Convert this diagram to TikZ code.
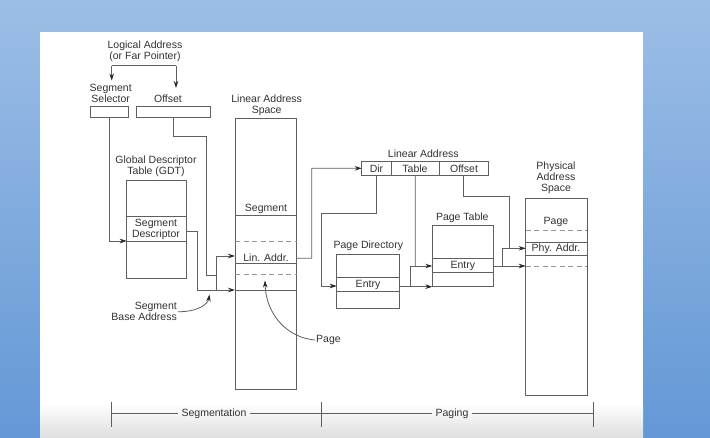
\documentclass[tikz,border=0pt]{standalone}
\usepackage{fontspec}
\setmainfont{Liberation Sans}
\usetikzlibrary{arrows.meta}
\definecolor{lc}{RGB}{95,95,95}
\definecolor{dc}{RGB}{150,150,150}
\definecolor{tc}{RGB}{50,50,50}
\definecolor{bgT}{RGB}{156,190,230}
\definecolor{bgB}{RGB}{100,152,214}
\definecolor{botg}{RGB}{222,222,222}
\tikzset{
  ln/.style={draw=lc, line width=0.8pt},
  box/.style={draw=lc, line width=0.8pt, inner sep=0pt, outer sep=0pt, anchor=north west},
  lbl/.style={font=\fontsize{10.5}{11}\selectfont, text=tc, inner sep=1pt, align=center},
  arr/.style={ln, -{Stealth[length=7pt,width=4.5pt,color=black!85]}},
  dsh/.style={draw=dc, line width=0.8pt, dash pattern=on 5pt off 3.5pt},
}
\begin{document}
\begin{tikzpicture}[x=1pt,y=-1pt]
\useasboundingbox (0,0) rectangle (710,437);
% background
\shade[top color=bgT, bottom color=bgB] (0,0) rectangle (710,437);
\fill[white] (40,32) rectangle (643,437);
\shade[top color=white, bottom color=botg] (40,404) rectangle (643,437);

% boxes
\node[box, minimum width=38pt, minimum height=11pt] (selbox) at (90,106) {};
\node[box, minimum width=74pt, minimum height=11pt] (offbox) at (136,106) {};
\node[box, minimum width=59.3pt, minimum height=98pt] (gdt) at (126.7,180) {};
\node[box, minimum width=61.7pt, minimum height=271pt] (lin) at (235,118.3) {};
\node[box, minimum width=29.3pt, minimum height=13.3pt] (dirf) at (361.7,161.7) {};
\node[box, minimum width=48.3pt, minimum height=13.3pt] (tabf) at (391,161.7) {};
\node[box, minimum width=49pt, minimum height=13.3pt] (offf) at (439.3,161.7) {};
\node[box, minimum width=62.6pt, minimum height=53.7pt] (pd) at (336.7,254.3) {};
\node[box, minimum width=61pt, minimum height=61.7pt] (pt) at (432.3,225) {};
\node[box, minimum width=61.6pt, minimum height=196.7pt] (phys) at (525.7,198.3) {};

% internal divisions
\draw[ln] (126.7,216.7) -- (186,216.7);
\draw[ln] (126.7,241.7) -- (186,241.7);
\draw[ln] (235,215.7) -- (296.7,215.7);
\draw[dsh] (235,241.7) -- (296.7,241.7);
\draw[ln] (235,263.3) -- (296.7,263.3);
\draw[dsh] (235,274) -- (296.7,274);
\draw[ln] (235,290) -- (296.7,290);
\draw[ln] (336.7,277.7) -- (399.3,277.7);
\draw[ln] (336.7,291.7) -- (399.3,291.7);
\draw[ln] (432.3,258.3) -- (493.3,258.3);
\draw[ln] (432.3,272.7) -- (493.3,272.7);
\draw[dsh] (525.7,230.7) -- (587.3,230.7);
\draw[ln] (525.7,242.3) -- (587.3,242.3);
\draw[ln] (525.7,255.7) -- (587.3,255.7);
\draw[dsh] (525.7,266) -- (587.3,266);

% texts inside
\node[lbl] (segd) at (156,229) {Segment\\Descriptor};
\node[lbl] (segt) at (266,209) {Segment};
\node[lbl] (linad) at (266,257.3) {Lin. Addr.};
\node[lbl] (dirt) at (376.5,168.5) {Dir};
\node[lbl] (tabt) at (415,168.5) {Table};
\node[lbl] (offt) at (464,168.5) {Offset};
\node[lbl] (pde) at (368,285) {Entry};
\node[lbl] (pte) at (462.8,265.5) {Entry};
\node[lbl] (pgt) at (556,222.3) {Page};
\node[lbl] (phya) at (556,249) {Phy. Addr.};

% labels
\node[lbl] (logaddr) at (145,51) {Logical Address\\(or Far Pointer)};
\node[lbl] (sellbl) at (110.7,93) {Segment\\Selector};
\node[lbl] (offlbl) at (168,98.3) {Offset};
\node[lbl] (gdtlbl) at (156,166.5) {Global Descriptor\\Table (GDT)};
\node[lbl] (linlbl) at (266.7,105.3) {Linear Address\\Space};
\node[lbl] (lalbl) at (423.3,154) {Linear Address};
\node[lbl] (pdlbl) at (368.3,246) {Page Directory};
\node[lbl] (ptlbl) at (462.3,217.3) {Page Table};
\node[lbl] (physlbl) at (556,177.5) {Physical\\Address\\Space};
\node[lbl, align=right, anchor=east] (sbase) at (178,311.7) {Segment\\Base Address};
\node[lbl, anchor=west] (pagelbl) at (315,340) {Page};
\node[lbl, inner xsep=3.5pt] (segm) at (214,413.3) {Segmentation};
\node[lbl, inner xsep=3pt] (paging) at (452,413.3) {Paging};

% logical address split
\coordinate (lsL) at (111.7,65.7);
\coordinate (lsR) at (176,65.7);
\coordinate (selarr) at (111.7,80.5);
\coordinate (offarr) at (176,88);
\draw[ln] (lsL) -- (lsR);
\draw[arr] (lsL) -- (selarr);
\draw[arr] (lsR) -- (offarr);

% selector to GDT
\coordinate (gdtin) at (126.7,241);
\draw[arr] (selbox.south) |- (gdtin);

% offset to adder
\coordinate (o1) at (206.7,136.7);
\coordinate (o2) at (206.7,275);
\coordinate (j1) at (216.7,275);
\draw[ln] (offbox.south) |- (o1) -- (o2) -- (j1);
\coordinate (jt) at (216.7,256);
\coordinate (jb) at (216.7,290);
\draw[ln] (jt) -- (jb);
\coordinate (linin1) at (235,256);
\coordinate (linin2) at (235,290);
\draw[arr] (jt) -- (linin1);

% segment descriptor base
\coordinate (sdout) at (186,231.7);
\coordinate (s1) at (197.3,231.7);
\coordinate (s2) at (197.3,290);
\draw[arr] (sdout) -- (s1) -- (s2) -- (linin2);

% linear address to paging
\coordinate (linout) at (296.7,258.3);
\coordinate (l2) at (311.7,168.3);
\draw[arr] (linout) -| (l2) -- (dirf.west);

% dir
\coordinate (d2) at (321,213.3);
\coordinate (pdin) at (336.7,286);
\draw[arr] (dirf.south) |- (d2) |- (pdin);

% table
\coordinate (tj) at (415.2,266);
\coordinate (t1) at (410,266);
\coordinate (t2) at (410,286.7);
\coordinate (ptin1) at (432.3,266);
\coordinate (ptin2) at (432.3,286.7);
\coordinate (pdout) at (399.3,286.7);
\draw[ln] (tabf.south) -- (tj);
\draw[ln] (t1) -- (t2);
\draw[arr] (t1) -- (ptin1);
\draw[arr] (pdout) -- (ptin2);

% offset to physical
\coordinate (of1) at (509.3,196.7);
\coordinate (of2) at (509.3,248.3);
\draw[ln] (offf.south) |- (of1) -- (of2);
\coordinate (pj1) at (502.7,248.3);
\coordinate (pj2) at (502.7,266);
\coordinate (physin1) at (525.7,248.3);
\coordinate (physin2) at (525.7,266);
\coordinate (ptout) at (493.3,266);
\draw[ln] (pj1) -- (pj2);
\draw[arr] (pj1) -- (physin1);
\draw[arr] (ptout) -- (physin2);

% curved pointers
\coordinate (sbtip) at (209.5,294.5);
\draw[arr] (sbase.east) .. controls (198,312) and (208,304) .. (sbtip);
\coordinate (pgtip) at (265,280.5);
\draw[arr] (pagelbl.west) .. controls (288,338) and (266,315) .. (pgtip);

% bottom scale
\coordinate (sc0a) at (111.7,401.7); \coordinate (sc0b) at (111.7,426.7);
\coordinate (sc1a) at (321.7,401.7); \coordinate (sc1b) at (321.7,426.7);
\coordinate (sc2a) at (593.3,401.7); \coordinate (sc2b) at (593.3,426.7);
\coordinate (b0) at (111.7,413.3);
\coordinate (b1) at (321.7,413.3);
\coordinate (b2) at (593.3,413.3);
\draw[ln] (sc0a) -- (sc0b);
\draw[ln] (sc1a) -- (sc1b);
\draw[ln] (sc2a) -- (sc2b);
\draw[ln] (b0) -- (segm.west);
\draw[ln] (segm.east) -- (b1);
\draw[ln] (b1) -- (paging.west);
\draw[ln] (paging.east) -- (b2);
\end{tikzpicture}
\end{document}
